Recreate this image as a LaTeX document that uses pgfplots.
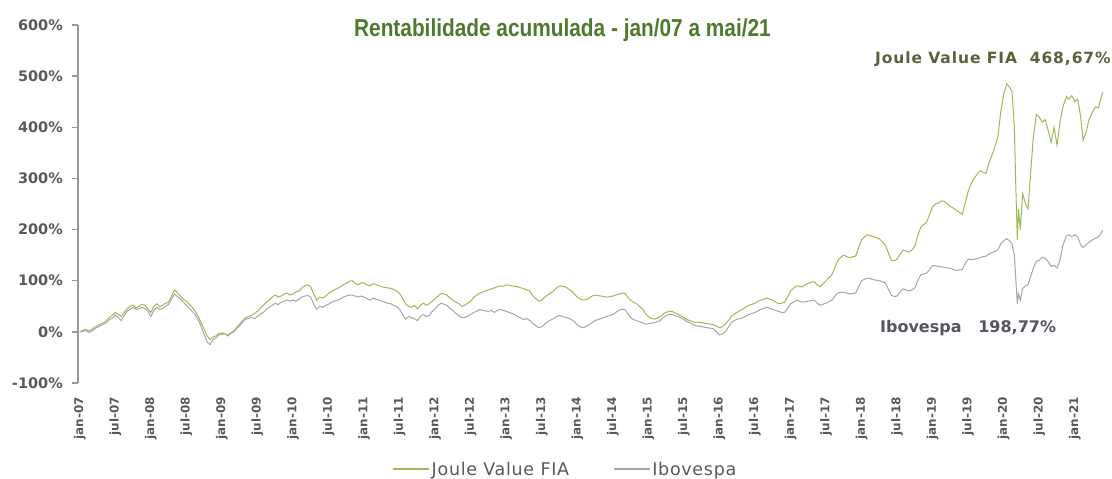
\documentclass[border=0pt]{standalone}
\usepackage{pgfplots}
\pgfplotsset{compat=1.18}
\usepackage{pgfplotstable}
\usepackage{graphicx}
\usepackage{fontspec}
\setmainfont{DejaVu Sans}
\newfontfamily\lib{Liberation Sans}
\newfontfamily\djsp{DejaVu Sans}[LetterSpace=6]
\newfontfamily\djleg{DejaVu Sans}[LetterSpace=4]
\definecolor{jgreen}{HTML}{9BBB59}
\definecolor{igray}{HTML}{A6A6A6}
\definecolor{titlegreen}{RGB}{79,121,45}
\definecolor{tickgray}{HTML}{595959}
\definecolor{axgray}{HTML}{9A9A9A}
\definecolor{jtext}{RGB}{94,94,60}
\definecolor{itext}{RGB}{85,85,95}

\pgfplotstableread{
m G B
0 0 0
0.5 3 1
1 5 3
1.5 2 -1
2 4 1
2.5 9 6
3 12 9
3.5 15 12
4 18 15
4.5 22 18
5 28 24
5.5 33 27
6 38 33
6.5 34 28
7 30 22
7.5 38 32
8 45 40
8.5 50 44
9 52 48
9.5 47 44
10 50 45
10.5 54 48
11 52 46
11.5 45 40
12 38 30
12.5 50 42
13 55 48
13.5 49 44
14 52 46
14.5 56 50
15 58 54
15.5 70 64
16 82 74
16.5 76 69
17 70 64
17.5 64 58
18 60 52
18.5 54 46
19 48 40
19.5 40 33
20 30 24
20.5 18 10
21 5 -5
21.5 -8 -20
22 -15 -25
22.5 -10 -15
23 -8 -12
23.5 -3 -6
24 -2 -5
24.5 -4 -4
25 -6 -8
25.5 -2 -3
26 2 0
26.5 9 6
27 15 12
27.5 22 19
28 28 25
28.5 30 26
29 32 28
29.5 36 26
30 40 30
30.5 47 35
31 52 38
31.5 58 44
32 62 48
32.5 68 52
33 72 56
33.5 68 53
34 70 58
34.5 74 60
35 76 62
35.5 72 60
36 74 62
36.5 78 60
37 80 64
37.5 86 68
38 90 70
38.5 92 71
39 88 68
39.5 74 54
40 62 44
40.5 68 50
41 66 48
41.5 70 52
42 75 54
42.5 79 58
43 82 60
43.5 85 62
44 88 64
44.5 92 68
45 95 70
45.5 99 72
46 100 72
46.5 95 70
47 92 68
47.5 96 70
48 95 68
48.5 92 65
49 90 62
49.5 94 66
50 93 64
50.5 90 62
51 88 60
51.5 87 58
52 86 56
52.5 85 55
53 83 52
53.5 80 50
54 75 44
54.5 66 34
55 55 25
55.5 50 30
56 48 28
56.5 52 26
57 45 22
57.5 52 30
58 56 34
58.5 52 30
59 55 32
59.5 60 40
60 65 45
60.5 70 52
61 75 56
61.5 74 54
62 72 52
62.5 66 46
63 62 42
63.5 58 36
64 55 32
64.5 50 28
65 52 28
65.5 56 31
66 60 34
66.5 67 38
67 72 40
67.5 75 44
68 78 42
68.5 80 41
69 82 40
69.5 84 42
70 86 38
70.5 88 42
71 90 44
71.5 89 42
72 92 40
72.5 91 38
73 90 36
73.5 89 33
74 88 30
74.5 86 27
75 84 24
75.5 82 26
76 80 22
76.5 70 16
77 65 12
77.5 60 8
78 62 10
78.5 68 15
79 72 20
79.5 76 23
80 80 26
80.5 86 30
81 90 32
81.5 89 30
82 88 28
82.5 84 27
83 80 24
83.5 74 20
84 68 14
84.5 64 10
85 62 8
85.5 63 11
86 66 14
86.5 70 18
87 72 22
87.5 71 24
88 70 26
88.5 69 28
89 68 30
89.5 69 32
90 70 34
90.5 72 38
91 74 42
91.5 75 44
92 76 44
92.5 68 36
93 62 28
93.5 58 24
94 55 22
94.5 50 20
95 45 18
95.5 36 15
96 30 16
96.5 26 17
97 25 18
97.5 27 20
98 30 22
98.5 35 28
99 38 32
99.5 40 34
100 40 34
100.5 37 32
101 35 30
101.5 31 27
102 28 24
102.5 24 20
103 22 18
103.5 20 15
104 18 12
104.5 19 11
105 18 10
105.5 17 9
106 16 8
106.5 15 7
107 14 6
107.5 11 0
108 8 -6
108.5 10 -4
109 15 0
109.5 22 9
110 30 18
110.5 35 22
111 38 25
111.5 42 26
112 45 28
112.5 49 31
113 52 34
113.5 54 36
114 56 38
114.5 60 41
115 62 44
115.5 64 46
116 66 48
116.5 64 46
117 62 44
117.5 58 42
118 55 40
118.5 56 38
119 58 38
119.5 68 46
120 80 55
120.5 85 58
121 90 62
121.5 89 60
122 88 58
122.5 92 59
123 95 60
123.5 97 61
124 98 62
124.5 92 56
125 88 52
125.5 94 54
126 100 56
126.5 106 59
127 112 62
127.5 126 70
128 140 76
128.5 146 77
129 150 78
129.5 147 76
130 145 74
130.5 147 75
131 148 76
131.5 165 88
132 180 100
132.5 186 103
133 190 105
133.5 188 104
134 186 102
134.5 184 101
135 182 100
135.5 176 98
136 170 96
136.5 155 84
137 140 72
137.5 139 69
138 142 70
138.5 152 78
139 160 84
139.5 158 82
140 156 80
140.5 160 82
141 168 86
141.5 188 100
142 205 112
142.5 210 113
143 215 115
143.5 230 122
144 245 130
144.5 250 129
145 252 128
145.5 256 127
146 255 126
146.5 250 125
147 245 124
147.5 242 122
148 238 120
148.5 234 121
149 230 122
149.5 252 134
150 275 142
150.5 290 141
151 300 142
151.5 308 143
152 315 145
152.5 312 147
153 310 148
153.5 330 152
154 345 155
154.5 362 157
155 380 160
155.5 430 172
156 465 178
156.5 485 182
157 478 178
157.4 470 172
157.8 400 150
158 300 110
158.3 180 55
158.5 240 75
158.8 200 62
159.2 270 85
159.7 250 90
160.1 240 92
160.6 320 110
161 380 125
161.5 425 138
162 420 140
162.5 410 146
163 415 144
163.6 390 136
164 370 128
164.5 400 130
165 365 125
165.5 410 140
166 440 170
166.6 460 188
167 455 190
167.5 462 186
168 450 190
168.5 455 186
169 420 170
169.4 375 165
169.9 390 170
170.4 415 175
171 430 180
171.5 440 183
172 438 186
172.3 452 190
172.7 468.67 198.77
}\datatable

\begin{document}
\begin{tikzpicture}[x=1pt,y=1pt]
\useasboundingbox (0,0) rectangle (1112,479);
\begin{axis}[
  at={(78pt,96pt)}, anchor=south west,
  scale only axis, width=1027pt, height=358pt,
  xmin=-0.3, xmax=173.1, ymin=-100, ymax=600,
  axis y line*=left, axis x line*=bottom,
  x axis line style={draw=none},
  y axis line style={draw=axgray, line width=1.5pt},
  xtick={0,6,...,168},
  xticklabels={jan-07,jul-07,jan-08,jul-08,jan-09,jul-09,jan-10,jul-10,jan-11,jul-11,jan-12,jul-12,jan-13,jul-13,jan-14,jul-14,jan-15,jul-15,jan-16,jul-16,jan-17,jul-17,jan-18,jul-18,jan-19,jul-19,jan-20,jul-20,jan-21},
  major x tick style={draw=none},
  ytick={-100,0,100,200,300,400,500,600},
  yticklabels={-100\%,0\%,100\%,200\%,300\%,400\%,500\%,600\%},
  tick align=outside,
  major tick length=6pt,
  major y tick style={draw=axgray, line width=1.5pt},
  y tick label style={font=\bfseries\fontsize{14.5}{16}\selectfont, text=tickgray, inner sep=0pt},
  yticklabel shift=9pt,
  x tick label style={font=\bfseries\fontsize{12}{13}\selectfont, text=tickgray, rotate=90, anchor=east, inner sep=0pt},
  xticklabel shift=8pt,
  clip=false,
  legend columns=2,
  legend style={at={(axis description cs:0.3057,-0.2416)}, anchor=west, draw=none, fill=none, inner sep=0pt,
    font=\djleg\fontsize{17.5}{19}\selectfont, text=tickgray, nodes={inner sep=2pt}},
  legend image code/.code={\draw[#1, line width=1.6pt] (0pt,0.5pt) -- (36pt,0.5pt);},
]
\addplot[jgreen, line width=1pt] table[x=m, y=G] {\datatable};
\addlegendentry{\makebox[179pt][l]{Joule Value FIA}}
\addplot[igray, line width=1pt] table[x=m, y=B] {\datatable};
\addlegendentry{Ibovespa}
\node[anchor=base, text=titlegreen, font=\lib\bfseries\fontsize{24.5}{26}\selectfont] at (axis cs:81.5,578) {\scalebox{0.85}[1]{Rentabilidade acumulada - jan/07 a mai/21}};
\node[anchor=base east, text=jtext, font=\djsp\bfseries\fontsize{15.5}{17}\selectfont, inner sep=0pt] at (axis cs:174.1,524) {Joule Value FIA\ \ 468,67\%};
\node[anchor=base west, text=itext, font=\bfseries\fontsize{16}{18}\selectfont, inner sep=0pt] at (axis cs:135.1,-1) {Ibovespa\ \ \ 198,77\%};
\end{axis}
\end{tikzpicture}
\end{document}
